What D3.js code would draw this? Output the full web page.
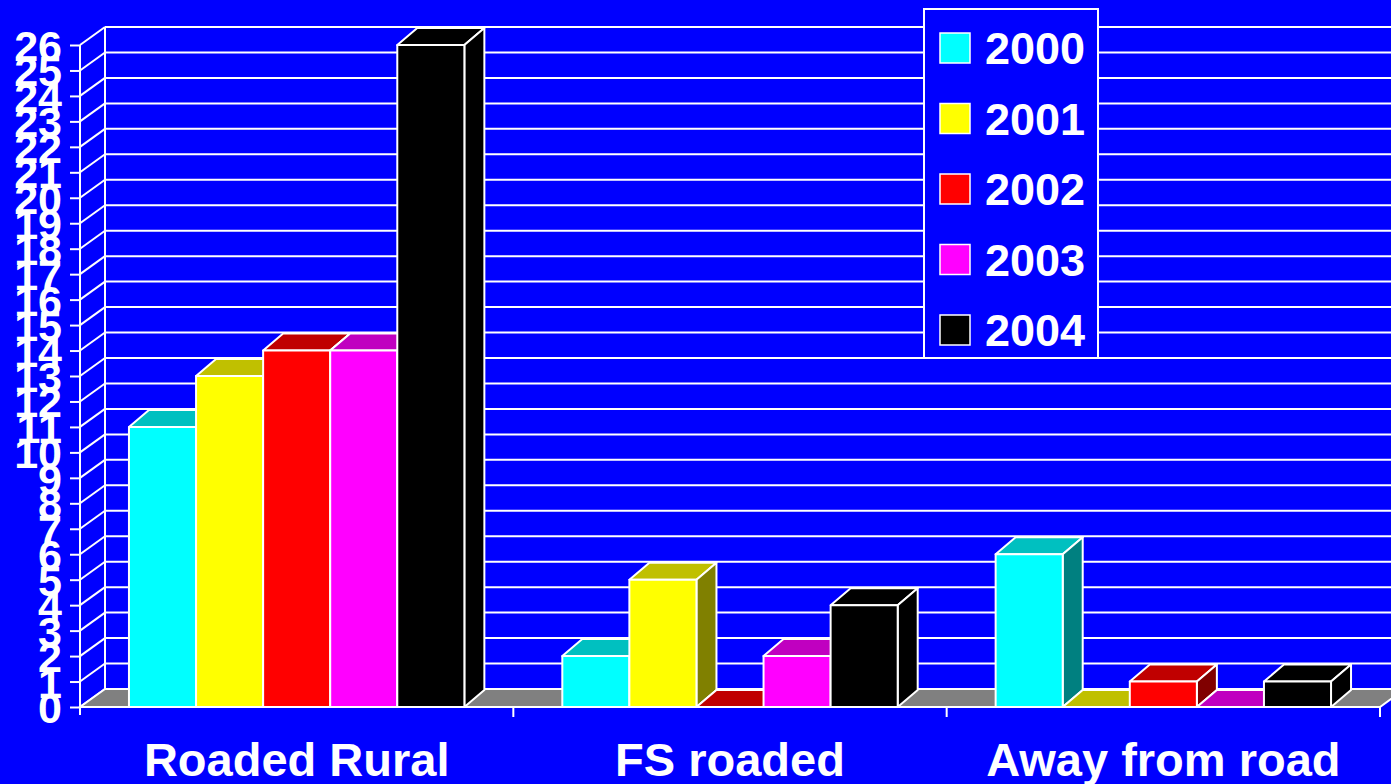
<!DOCTYPE html>
<html>
<head>
<meta charset="utf-8">
<script src="https://d3js.org/d3.v7.min.js"></script>
<style>
  body { margin: 0; background: #0000ff; overflow: hidden; }
  svg text { font-family: "Liberation Sans", Arial, sans-serif; font-weight: bold; fill: #fff; }
</style>
</head>
<body>
<svg></svg>
<script>
// chart data
const categories = ["Roaded Rural", "FS roaded", "Away from road"];
const years = ["2000", "2001", "2002", "2003", "2004"];
const values2000 = [11, 2, 6];
const values2001 = [13, 5, 0];
const values2002 = [14, 0, 1];
const values2003 = [14, 2, 0];
const values2004 = [26, 4, 1];
const yTicks = d3.range(0, 27);

const seriesValues = [values2000, values2001, values2002, values2003, values2004];
const colors = {
  front: ["#00ffff", "#ffff00", "#ff0000", "#ff00ff", "#000000"],
  top:   ["#00c0c0", "#c0c000", "#c00000", "#c000c0", "#000000"],
  side:  ["#008080", "#808000", "#800000", "#800080", "#000000"]
};

const width = 1391, height = 784;
const svg = d3.select("svg").attr("width", width).attr("height", height);
svg.append("rect").attr("width", width).attr("height", height).attr("fill", "#0000ff");

// front plane geometry
const x0 = 80, x1 = 1380;
const wallDx = 25, wallDy = -18;
const barDx = 20, barDy = -17;

const x = d3.scaleBand().domain(categories).range([x0, x1]);
const xs = d3.scaleBand().domain(years).range([0, x.bandwidth()]).paddingOuter(0.73);
const y = d3.scaleLinear().domain([0, 26]).range([707, 45]);

const line = "#ffffff";

// back wall gridlines
svg.append("g").selectAll("line").data(yTicks).join("line")
  .attr("x1", x0 + wallDx).attr("x2", width + 30)
  .attr("y1", d => y(d) + wallDy).attr("y2", d => y(d) + wallDy)
  .attr("stroke", line).attr("stroke-width", 2);
svg.append("line")
  .attr("x1", x0 + wallDx).attr("x2", x0 + wallDx)
  .attr("y1", y(26) + wallDy).attr("y2", y(0) + wallDy)
  .attr("stroke", line).attr("stroke-width", 2);

// side wall diagonals
svg.append("g").selectAll("line").data(yTicks).join("line")
  .attr("x1", x0).attr("x2", x0 + wallDx)
  .attr("y1", d => y(d)).attr("y2", d => y(d) + wallDy)
  .attr("stroke", line).attr("stroke-width", 2);

// floor
svg.append("path")
  .attr("d", `M${x0},${y(0)}L${x1},${y(0)}L${x1 + wallDx},${y(0) + wallDy}L${x0 + wallDx},${y(0) + wallDy}Z`)
  .attr("fill", "#808080").attr("stroke", line).attr("stroke-width", 2);

// 3D bars, left to right
const bars = svg.append("g");
categories.forEach((c, ci) => {
  years.forEach((yr, si) => {
    const v = seriesValues[si][ci];
    const bx = x(c) + xs(yr);
    const bw = xs.bandwidth();
    const by = y(v), b0 = y(0);
    const g = bars.append("g").attr("stroke", line).attr("stroke-width", 2).attr("stroke-linejoin", "round");
    // top
    g.append("path")
      .attr("d", `M${bx},${by}L${bx + bw},${by}L${bx + bw + barDx},${by + barDy}L${bx + barDx},${by + barDy}Z`)
      .attr("fill", colors.top[si]);
    if (v > 0) {
      // side
      g.append("path")
        .attr("d", `M${bx + bw},${by}L${bx + bw + barDx},${by + barDy}L${bx + bw + barDx},${b0 + barDy}L${bx + bw},${b0}Z`)
        .attr("fill", colors.side[si]);
      // front
      g.append("rect")
        .attr("x", bx).attr("y", by).attr("width", bw).attr("height", b0 - by)
        .attr("fill", colors.front[si]);
    }
  });
});

// front y axis
svg.append("line").attr("x1", x0).attr("x2", x0).attr("y1", y(26)).attr("y2", y(0) + 8)
  .attr("stroke", line).attr("stroke-width", 2);
const yAxis = svg.append("g").attr("transform", `translate(${x0},0)`)
  .call(d3.axisLeft(y).tickValues(yTicks).tickSize(10).tickPadding(8));
yAxis.select(".domain").remove();
yAxis.selectAll(".tick line").attr("stroke", line).attr("stroke-width", 2);
yAxis.selectAll(".tick text").attr("fill", "#fff").attr("font-size", 43)
  .attr("font-family", "Liberation Sans, Arial, sans-serif").attr("font-weight", "bold")
  .attr("dy", "0.36em");

// front x axis
const xAxis = svg.append("g").attr("transform", `translate(0,${y(0)})`)
  .call(d3.axisBottom(x).tickSize(10).tickPadding(22));
xAxis.select(".domain").attr("stroke", line).attr("stroke-width", 2).attr("d", `M${x0},0H${x1}`);
xAxis.selectAll(".tick line").attr("stroke", line).attr("stroke-width", 2)
  .attr("transform", function () { return `translate(${x.bandwidth() / 2},0)`; });
xAxis.selectAll(".tick text").attr("fill", "#fff").attr("font-size", 47)
  .attr("font-family", "Liberation Sans, Arial, sans-serif").attr("font-weight", "bold")
  .attr("y", 69).attr("dy", null);

// legend
const legend = svg.append("g");
legend.append("rect").attr("x", 924).attr("y", 9).attr("width", 174).attr("height", 349)
  .attr("fill", "#0000ff").attr("stroke", line).attr("stroke-width", 2);
const ly = d3.scalePoint().domain(years).range([48, 330]);
years.forEach((yr, i) => {
  legend.append("rect").attr("x", 940).attr("y", ly(yr) - 15).attr("width", 30).attr("height", 30)
    .attr("fill", colors.front[i]).attr("stroke", line).attr("stroke-width", 1.5);
  legend.append("text").attr("x", 985).attr("y", ly(yr) + 16).attr("font-size", 45).text(yr);
});
</script>
</body>
</html>
